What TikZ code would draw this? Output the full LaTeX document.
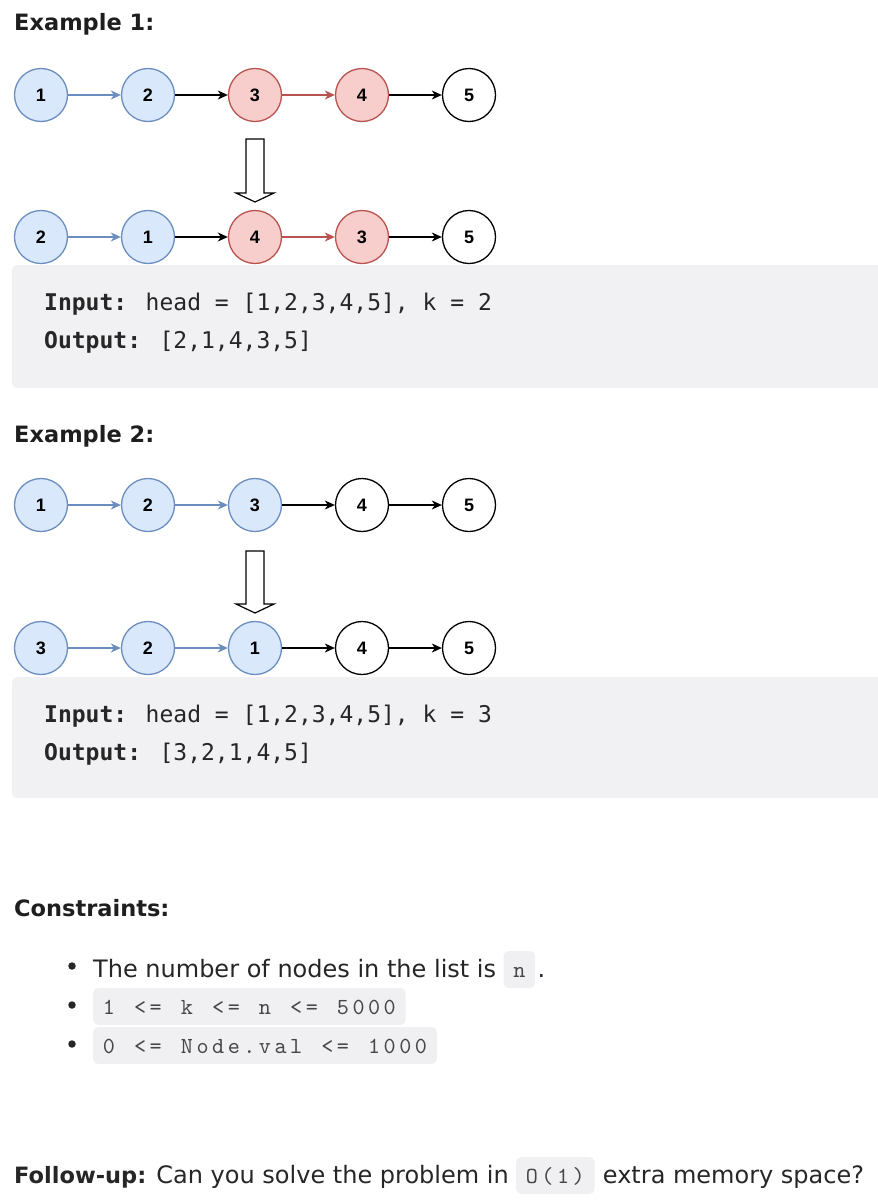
\documentclass[tikz,border=0pt]{standalone}
\usepackage{fontspec}
\setmainfont{DejaVu Sans}
\newfontfamily\numfont{Liberation Sans}
\newfontfamily\boxmono{DejaVu Sans Mono}
\newfontfamily\codefam{lmmono10-regular.otf}
\usetikzlibrary{arrows.meta}
\newlength\codecell
\setlength\codecell{15.6pt}
\ExplSyntaxOn
\NewDocumentCommand\monocells{m}{\str_map_inline:nn {#1} {\makebox[\codecell][c]{##1}}}
\ExplSyntaxOff
\definecolor{bfill}{RGB}{218,232,252}
\definecolor{bline}{RGB}{108,142,191}
\definecolor{rfill}{RGB}{248,206,204}
\definecolor{rline}{RGB}{184,84,80}
\definecolor{boxbg}{RGB}{241,241,243}
\definecolor{codebg}{RGB}{240,240,242}
\definecolor{codetext}{RGB}{70,70,70}
\definecolor{textc}{RGB}{38,38,38}
\definecolor{headc}{RGB}{30,30,30}
\begin{document}
\begin{tikzpicture}[x=1pt,y=-1pt,
  lnode/.style={circle, minimum size=53pt, inner sep=0pt, line width=1.3pt,
    font=\numfont\bfseries\fontsize{18}{18}\selectfont, text=black},
  bnode/.style={lnode, fill=bfill, draw=bline},
  rnode/.style={lnode, fill=rfill, draw=rline},
  wnode/.style={lnode, fill=white, draw=black},
  link/.style={line width=1.3pt, -{Stealth[length=10pt,width=9pt,inset=3pt]}},
  barr/.style={link, draw=bline},
  rarr/.style={link, draw=rline},
  karr/.style={link, draw=black},
  hollow/.style={line width=1.2pt, draw=black, fill=white, line join=miter},
  head/.style={anchor=base west, inner sep=0pt, text=headc,
    font=\bfseries\fontsize{22.5}{26}\selectfont},
  body/.style={anchor=base west, inner sep=0pt, text=textc,
    font=\fontsize{24}{28}\selectfont},
  mono/.style={anchor=base west, inner sep=0pt, text=textc,
    font=\boxmono\fontsize{23}{26}\selectfont},
  code/.style={anchor=base west, fill=codebg, rounded corners=5pt, text=codetext,
    inner xsep=8pt, inner ysep=8pt, text height=18pt, text depth=3pt,
    font=\codefam\fontsize{23}{24}\selectfont},
  bullet/.style={circle, fill=textc, inner sep=0pt, minimum size=7.5pt}
]
\useasboundingbox (0,0) rectangle (878,1202);
\clip (0,0) rectangle (878,1202);

% ---------- Example 1 ----------
\node[head] (ex1) at (14,30) {Example 1:};

\node[bnode] (a1) at (41,95) {1};
\node[bnode] (a2) at (148,95) {2};
\node[rnode] (a3) at (255,95) {3};
\node[rnode] (a4) at (362,95) {4};
\node[wnode] (a5) at (469,95) {5};
\draw[barr] (a1) -- (a2);
\draw[karr] (a2) -- (a3);
\draw[rarr] (a3) -- (a4);
\draw[karr] (a4) -- (a5);

\draw[hollow] (246,139) -- (264,139) -- (264,193) -- (274,193) -- (255,202)
  -- (236,193) -- (246,193) -- cycle;

\node[bnode] (b1) at (41,237) {2};
\node[bnode] (b2) at (148,237) {1};
\node[rnode] (b3) at (255,237) {4};
\node[rnode] (b4) at (362,237) {3};
\node[wnode] (b5) at (469,237) {5};
\draw[barr] (b1) -- (b2);
\draw[karr] (b2) -- (b3);
\draw[rarr] (b3) -- (b4);
\draw[karr] (b4) -- (b5);

\fill[boxbg, rounded corners=5pt] (12,265) rectangle (895,388);
\node[mono] (in1) at (44,310) {{\bfseries Input:} head = [1,2,3,4,5], k = 2};
\node[mono] (out1) at (44,348) {{\bfseries Output:} [2,1,4,3,5]};

% ---------- Example 2 ----------
\node[head] (ex2) at (14,442) {Example 2:};

\node[bnode] (c1) at (41,505) {1};
\node[bnode] (c2) at (148,505) {2};
\node[bnode] (c3) at (255,505) {3};
\node[wnode] (c4) at (362,505) {4};
\node[wnode] (c5) at (469,505) {5};
\draw[barr] (c1) -- (c2);
\draw[barr] (c2) -- (c3);
\draw[karr] (c3) -- (c4);
\draw[karr] (c4) -- (c5);

\draw[hollow] (246,551) -- (264,551) -- (264,604) -- (274,604) -- (255,613)
  -- (236,604) -- (246,604) -- cycle;

\node[bnode] (d1) at (41,648) {3};
\node[bnode] (d2) at (148,648) {2};
\node[bnode] (d3) at (255,648) {1};
\node[wnode] (d4) at (362,648) {4};
\node[wnode] (d5) at (469,648) {5};
\draw[barr] (d1) -- (d2);
\draw[barr] (d2) -- (d3);
\draw[karr] (d3) -- (d4);
\draw[karr] (d4) -- (d5);

\fill[boxbg, rounded corners=5pt] (12,677) rectangle (895,798);
\node[mono] (in2) at (44,722) {{\bfseries Input:} head = [1,2,3,4,5], k = 3};
\node[mono] (out2) at (44,760) {{\bfseries Output:} [3,2,1,4,5]};

% ---------- Constraints ----------
\node[head] (cons) at (14,916) {Constraints:};

\node[bullet] (bu1) at (72,966) {};
\node[body] (t1) at (93,977) {The number of nodes in the list is};
\node[code] (n1) at ([xshift=7pt]t1.base east) {\monocells{n}};
\node[body] (dot) at ([xshift=2pt]n1.base east) {.};

\node[bullet] (bu2) at (72,1005) {};
\node[code] (k1) at (93,1014) {\monocells{1 <= k <= n <= 5000}};

\node[bullet] (bu3) at (72,1044) {};
\node[code] (v1) at (93,1053) {\monocells{0 <= Node.val <= 1000}};

% ---------- Follow-up ----------
\node[body] (fu) at (14,1183) {{\bfseries\fontsize{22.5}{26}\selectfont Follow-up:} Can you solve the problem in};
\node[code] (o1) at ([xshift=7pt]fu.base east) {\monocells{O(1)}};
\node[body] (fu2) at ([xshift=8pt]o1.base east) {extra memory space?};
\end{tikzpicture}
\end{document}
